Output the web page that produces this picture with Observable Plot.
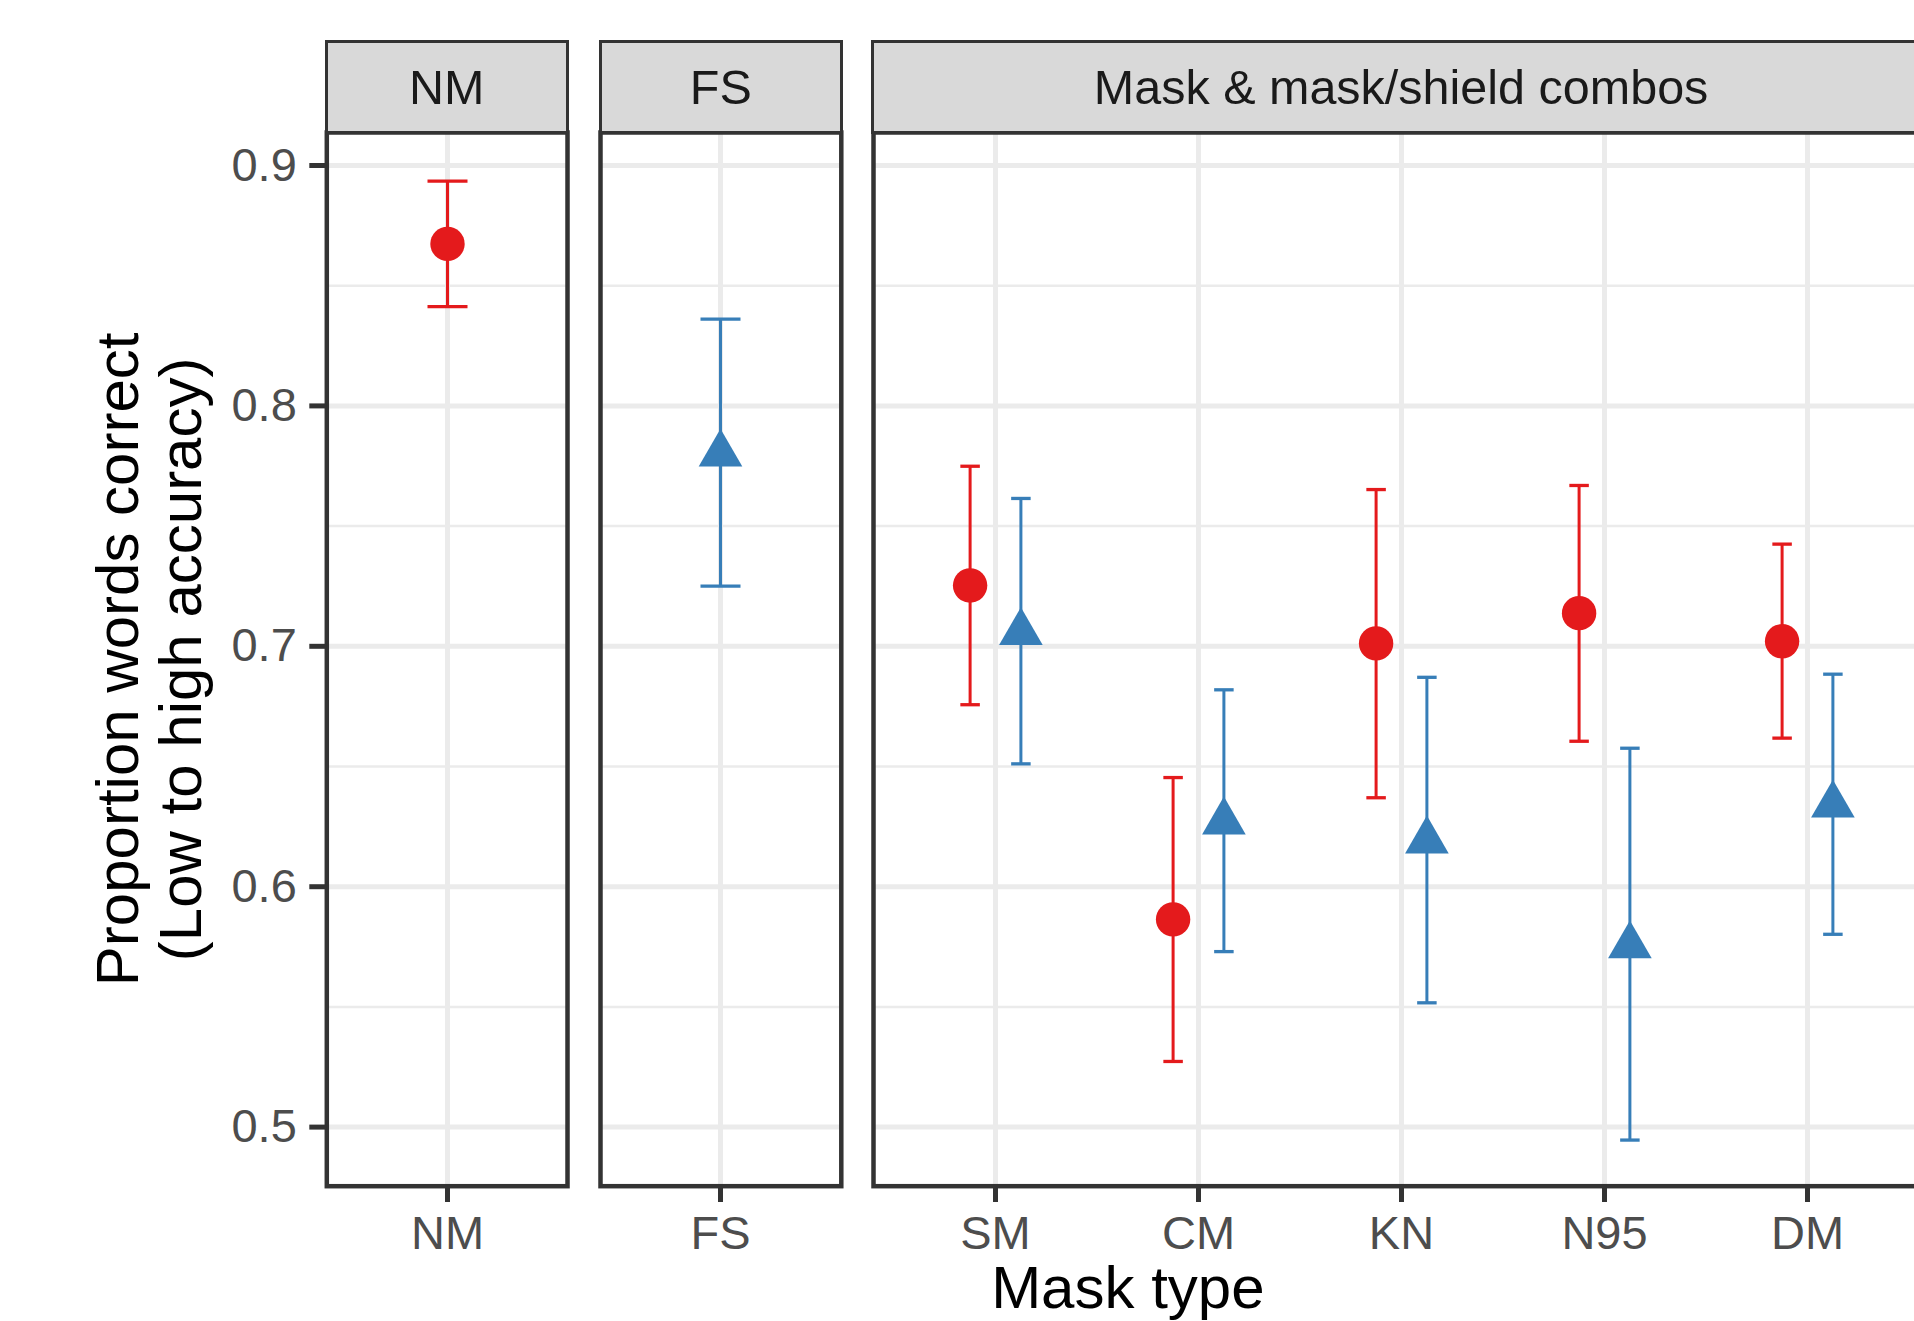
<!DOCTYPE html>
<html>
<head>
<meta charset="utf-8">
<script src="https://cdn.jsdelivr.net/npm/d3@7"></script>
<script src="https://cdn.jsdelivr.net/npm/@observablehq/plot@0.6"></script>
<style>
  html, body { margin: 0; padding: 0; background: #ffffff; overflow: hidden; }
  #chart { position: relative; width: 1914px; height: 1321px; overflow: hidden; background: #ffffff;
           font-family: "Liberation Sans", Arial, Helvetica, sans-serif; }
  .strip { position: absolute; box-sizing: border-box; background: #D9D9D9; border: 3.3px solid #333333;
           display: flex; align-items: center; justify-content: center; color: #1A1A1A;
           font-size: 48.5px; white-space: nowrap; z-index: 2; }
  .panel { position: absolute; top: 0; z-index: 1; }
  #xtitle { position: absolute; font-size: 60px; line-height: 60px; color: #000000; white-space: nowrap;
            transform: translateX(-50%); z-index: 3; }
</style>
</head>
<body>
<div id="chart"></div>
<script>
// ---------------- data ----------------
const panelNames = ["NM", "FS", "Mask & mask/shield combos"];
const panelMasks = [["NM"], ["FS"], ["SM", "CM", "KN", "N95", "DM"]];
const groups = ["No shield", "Shield"];
const groupColors = ["#E41A1C", "#377EB8"];

const noShieldMasks = ["NM", "SM", "CM", "KN", "N95", "DM"];
const noShieldMean  = [0.8674, 0.7253, 0.5864, 0.7012, 0.7138, 0.7021];
const noShieldLow   = [0.8413, 0.6757, 0.5273, 0.6370, 0.6605, 0.6618];
const noShieldHigh  = [0.8935, 0.7749, 0.6454, 0.7652, 0.7669, 0.7425];

const shieldMasks = ["FS", "SM", "CM", "KN", "N95", "DM"];
const shieldMean  = [0.7800, 0.7058, 0.6270, 0.6191, 0.5755, 0.6340];
const shieldLow   = [0.7250, 0.6511, 0.5730, 0.5517, 0.4946, 0.5802];
const shieldHigh  = [0.8361, 0.7615, 0.6819, 0.6871, 0.6576, 0.6884];

const yTicks = [0.5, 0.6, 0.7, 0.8, 0.9];
const yMinorTicks = [0.55, 0.65, 0.75, 0.85];
const yTitle = "Proportion words correct\n(Low to high accuracy)";
const xTitle = "Mask type";

// ---------------- table ----------------
const rows = [];
noShieldMasks.forEach((m, i) => rows.push({mask: m, group: groups[0], mean: noShieldMean[i], lo: noShieldLow[i], hi: noShieldHigh[i]}));
shieldMasks.forEach((m, i) => rows.push({mask: m, group: groups[1], mean: shieldMean[i], lo: shieldLow[i], hi: shieldHigh[i]}));

// ---------------- layout ----------------
const H = 1321;
const TOP = 132, BOTTOM = 1185.7;
const frames = [[326.3, 567.0], [600.4, 841.2], [872.8, 1929.4]];
const stripTop = 41.5, stripBorder = 3.3;
const yDomain = [0.47542, 0.91373];
const fontFamily = '"Liberation Sans", Arial, Helvetica, sans-serif';

const capSymbol = {
  draw(context, size) {
    const w = Math.sqrt(size / Math.PI);
    context.moveTo(-w, 0);
    context.lineTo(w, 0);
  }
};

const chart = document.getElementById("chart");

function panelPlot(i) {
  const cats = panelMasks[i];
  const [x0, x1] = frames[i];
  const ml = i === 0 ? x0 : 16, mr = 16;
  const dodge = cats.length > 1;
  const data = rows.filter(r => cats.includes(r.mask));
  const grid = {stroke: "#EBEBEB", strokeOpacity: 1};
  const marks = [
    Plot.gridY(yMinorTicks, {...grid, strokeWidth: 2.5}),
    Plot.gridY(yTicks, {...grid, strokeWidth: 5}),
    Plot.gridX(cats, {...grid, strokeWidth: 5})
  ];
  groups.forEach((g, gi) => {
    const d = data.filter(r => r.group === g);
    if (!d.length) return;
    const dx = dodge ? (gi === 0 ? -25.4 : 25.4) : 0;
    const capR = dodge ? 9.75 : 20;
    const color = groupColors[gi];
    marks.push(
      Plot.ruleX(d, {x: "mask", y1: "lo", y2: "hi", stroke: color, strokeWidth: 3, dx}),
      Plot.dot(d, {x: "mask", y: "lo", symbol: capSymbol, r: capR, fill: "none", stroke: color, strokeWidth: 3.3, dx}),
      Plot.dot(d, {x: "mask", y: "hi", symbol: capSymbol, r: capR, fill: "none", stroke: color, strokeWidth: 3.3, dx}),
      Plot.dot(d, {x: "mask", y: "mean", symbol: gi === 0 ? "circle" : "triangle", r: gi === 0 ? 17.2 : 16.2,
                   fill: color, stroke: "none", dx})
    );
  });
  marks.push(Plot.frame({stroke: "#333333", strokeWidth: 4.5}));
  marks.push(Plot.axisX(cats, {anchor: "bottom", tickSize: 16.3, tickPadding: 13, fontSize: 47,
                               color: "#4D4D4D", stroke: "#333333", strokeWidth: 5, label: null}));
  if (i === 0) {
    marks.push(Plot.axisY(yTicks, {anchor: "left", tickSize: 17, tickPadding: 13, fontSize: 47,
                                   tickFormat: d3.format(".1f"),
                                   color: "#4D4D4D", stroke: "#333333", strokeWidth: 5, label: null}));
    marks.push(Plot.text([yTitle], {text: d => d, frameAnchor: "left", textAnchor: "middle", lineAnchor: "middle",
                                    rotate: -90, dx: -177.46, fontSize: 60, lineHeight: 1.05, fill: "#000000"}));
  }
  const svg = Plot.plot({
    width: ml + (x1 - x0) + mr,
    height: H,
    marginLeft: ml,
    marginRight: mr,
    marginTop: TOP,
    marginBottom: H - BOTTOM,
    x: {type: "point", domain: cats, padding: 0.6, label: null},
    y: i === 0 ? {domain: yDomain, label: null} : {domain: yDomain, label: null, axis: null},
    style: {background: "transparent", fontFamily, overflow: "visible", maxWidth: "none"},
    marks
  });
  svg.classList.add("panel");
  svg.style.left = (x0 - ml) + "px";
  chart.appendChild(svg);

  const strip = document.createElement("div");
  strip.className = "strip";
  strip.textContent = panelNames[i];
  strip.style.left = (x0 - stripBorder / 2) + "px";
  strip.style.top = (stripTop - stripBorder / 2) + "px";
  strip.style.width = (x1 - x0 + stripBorder) + "px";
  strip.style.height = (TOP - stripTop + stripBorder) + "px";
  chart.appendChild(strip);
}

[0, 1, 2].forEach(panelPlot);

const xt = document.createElement("div");
xt.id = "xtitle";
xt.textContent = xTitle;
xt.style.left = ((frames[0][0] + frames[2][1]) / 2) + "px";
xt.style.top = "1258px";
chart.appendChild(xt);
</script>
</body>
</html>
